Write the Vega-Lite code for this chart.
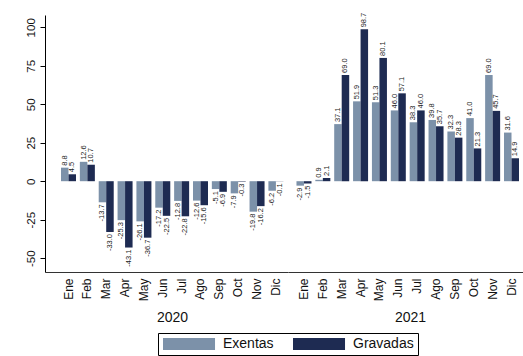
{
  "$schema": "https://vega.github.io/schema/vega-lite/v6.json",
  "padding": {"left": 5, "top": 12, "right": 0, "bottom": 0},
  "background": "white",
  "data": {"values": [
    {"anio": 2020, "mes": "Ene", "serie": "Exentas", "valor": 8.8},
    {"anio": 2020, "mes": "Ene", "serie": "Gravadas", "valor": 4.5},
    {"anio": 2020, "mes": "Feb", "serie": "Exentas", "valor": 12.6},
    {"anio": 2020, "mes": "Feb", "serie": "Gravadas", "valor": 10.7},
    {"anio": 2020, "mes": "Mar", "serie": "Exentas", "valor": -13.7},
    {"anio": 2020, "mes": "Mar", "serie": "Gravadas", "valor": -33.0},
    {"anio": 2020, "mes": "Apr", "serie": "Exentas", "valor": -25.3},
    {"anio": 2020, "mes": "Apr", "serie": "Gravadas", "valor": -43.1},
    {"anio": 2020, "mes": "May", "serie": "Exentas", "valor": -26.1},
    {"anio": 2020, "mes": "May", "serie": "Gravadas", "valor": -36.7},
    {"anio": 2020, "mes": "Jun", "serie": "Exentas", "valor": -17.2},
    {"anio": 2020, "mes": "Jun", "serie": "Gravadas", "valor": -22.5},
    {"anio": 2020, "mes": "Jul", "serie": "Exentas", "valor": -12.8},
    {"anio": 2020, "mes": "Jul", "serie": "Gravadas", "valor": -22.8},
    {"anio": 2020, "mes": "Ago", "serie": "Exentas", "valor": -12.6},
    {"anio": 2020, "mes": "Ago", "serie": "Gravadas", "valor": -15.6},
    {"anio": 2020, "mes": "Sep", "serie": "Exentas", "valor": -5.1},
    {"anio": 2020, "mes": "Sep", "serie": "Gravadas", "valor": -6.9},
    {"anio": 2020, "mes": "Oct", "serie": "Exentas", "valor": -7.9},
    {"anio": 2020, "mes": "Oct", "serie": "Gravadas", "valor": -0.3},
    {"anio": 2020, "mes": "Nov", "serie": "Exentas", "valor": -19.8},
    {"anio": 2020, "mes": "Nov", "serie": "Gravadas", "valor": -16.2},
    {"anio": 2020, "mes": "Dic", "serie": "Exentas", "valor": -6.2},
    {"anio": 2020, "mes": "Dic", "serie": "Gravadas", "valor": -0.1},
    {"anio": 2021, "mes": "Ene", "serie": "Exentas", "valor": -2.9},
    {"anio": 2021, "mes": "Ene", "serie": "Gravadas", "valor": -1.5},
    {"anio": 2021, "mes": "Feb", "serie": "Exentas", "valor": 0.9},
    {"anio": 2021, "mes": "Feb", "serie": "Gravadas", "valor": 2.1},
    {"anio": 2021, "mes": "Mar", "serie": "Exentas", "valor": 37.1},
    {"anio": 2021, "mes": "Mar", "serie": "Gravadas", "valor": 69.0},
    {"anio": 2021, "mes": "Apr", "serie": "Exentas", "valor": 51.9},
    {"anio": 2021, "mes": "Apr", "serie": "Gravadas", "valor": 98.7},
    {"anio": 2021, "mes": "May", "serie": "Exentas", "valor": 51.3},
    {"anio": 2021, "mes": "May", "serie": "Gravadas", "valor": 80.1},
    {"anio": 2021, "mes": "Jun", "serie": "Exentas", "valor": 46.0},
    {"anio": 2021, "mes": "Jun", "serie": "Gravadas", "valor": 57.1},
    {"anio": 2021, "mes": "Jul", "serie": "Exentas", "valor": 38.3},
    {"anio": 2021, "mes": "Jul", "serie": "Gravadas", "valor": 46.0},
    {"anio": 2021, "mes": "Ago", "serie": "Exentas", "valor": 39.8},
    {"anio": 2021, "mes": "Ago", "serie": "Gravadas", "valor": 35.7},
    {"anio": 2021, "mes": "Sep", "serie": "Exentas", "valor": 32.3},
    {"anio": 2021, "mes": "Sep", "serie": "Gravadas", "valor": 28.3},
    {"anio": 2021, "mes": "Oct", "serie": "Exentas", "valor": 41.0},
    {"anio": 2021, "mes": "Oct", "serie": "Gravadas", "valor": 21.3},
    {"anio": 2021, "mes": "Nov", "serie": "Exentas", "valor": 69.0},
    {"anio": 2021, "mes": "Nov", "serie": "Gravadas", "valor": 45.7},
    {"anio": 2021, "mes": "Dic", "serie": "Exentas", "valor": 31.6},
    {"anio": 2021, "mes": "Dic", "serie": "Gravadas", "valor": 14.9}
  ]},
  "spacing": 0,
  "resolve": {"scale": {"y": "shared", "color": "shared"}},
  "hconcat": [
    {
      "width": 243,
      "height": 257,
      "transform": [{"filter": "datum.anio == 2020"}],
      "encoding": {
        "x": {"field": "mes", "type": "nominal",
          "sort": ["Ene","Feb","Mar","Apr","May","Jun","Jul","Ago","Sep","Oct","Nov","Dic"],
          "scale": {"paddingInner": 0.204, "paddingOuter": 0.546, "align": 0.777},
          "axis": {"title": "2020", "titleX": 127}},
        "xOffset": {"field": "serie", "type": "nominal", "sort": ["Exentas", "Gravadas"]},
        "y": {"field": "valor", "type": "quantitative",
          "scale": {"domain": [-59, 108], "nice": false, "zero": false},
          "axis": {"title": null, "values": [-50, -25, 0, 25, 50, 75, 100], "labelAngle": 270,
            "grid": false, "tickSize": 5, "domainColor": "black", "tickColor": "black",
            "labelFontSize": 11.5, "labelPadding": 4, "minExtent": 40, "maxExtent": 40}},
        "color": {"field": "serie", "type": "nominal",
          "scale": {"domain": ["Exentas", "Gravadas"], "range": ["#7c91a9", "#1e2b52"]},
          "legend": {"orient": "none", "legendX": 113, "legendY": 318, "direction": "horizontal", "title": null}}
      },
      "layer": [
        {"mark": {"type": "bar"}},
        {"transform": [{"filter": "datum.valor >= 0"}],
          "mark": {"type": "text", "angle": 270, "align": "left", "baseline": "middle", "dx": 2, "fontSize": 7.5, "font": "Liberation Sans", "color": "#222"},
          "encoding": {"text": {"field": "valor", "type": "quantitative", "format": ".1f"}, "color": {"value": "#222"}}},
        {"transform": [{"filter": "datum.valor < 0"}],
          "mark": {"type": "text", "angle": 270, "align": "right", "baseline": "middle", "dx": -2, "fontSize": 7.5, "font": "Liberation Sans", "color": "#222"},
          "encoding": {"text": {"field": "valor", "type": "quantitative", "format": ".1f"}, "color": {"value": "#222"}}}
      ]
    },
    {
      "width": 235,
      "height": 257,
      "transform": [{"filter": "datum.anio == 2021"}],
      "encoding": {
        "x": {"field": "mes", "type": "nominal",
          "sort": ["Ene","Feb","Mar","Apr","May","Jun","Jul","Ago","Sep","Oct","Nov","Dic"],
          "scale": {"paddingInner": 0.204, "paddingOuter": 0.33, "align": 0.68},
          "axis": {"title": "2021", "titleX": 122}},
        "xOffset": {"field": "serie", "type": "nominal", "sort": ["Exentas", "Gravadas"]},
        "y": {"field": "valor", "type": "quantitative",
          "scale": {"domain": [-59, 108], "nice": false, "zero": false},
          "axis": null},
        "color": {"field": "serie", "type": "nominal",
          "scale": {"domain": ["Exentas", "Gravadas"], "range": ["#7c91a9", "#1e2b52"]},
          "legend": {"orient": "none", "legendX": 113, "legendY": 318, "direction": "horizontal", "title": null}}
      },
      "layer": [
        {"mark": {"type": "bar"}},
        {"transform": [{"filter": "datum.valor >= 0"}],
          "mark": {"type": "text", "angle": 270, "align": "left", "baseline": "middle", "dx": 2, "fontSize": 7.5, "font": "Liberation Sans", "color": "#222"},
          "encoding": {"text": {"field": "valor", "type": "quantitative", "format": ".1f"}, "color": {"value": "#222"}}},
        {"transform": [{"filter": "datum.valor < 0"}],
          "mark": {"type": "text", "angle": 270, "align": "right", "baseline": "middle", "dx": -2, "fontSize": 7.5, "font": "Liberation Sans", "color": "#222"},
          "encoding": {"text": {"field": "valor", "type": "quantitative", "format": ".1f"}, "color": {"value": "#222"}}}
      ]
    }
  ],
  "config": {
    "locale": {"number": {"decimal": ".", "thousands": ",", "grouping": [3], "currency": ["$", ""], "minus": "-"}},
    "font": "Liberation Sans",
    "view": {"stroke": null},
    "axis": {"labelFont": "Liberation Sans", "titleFont": "Liberation Sans", "labelColor": "#111", "titleColor": "#111"},
    "axisX": {"labelAngle": 270, "ticks": false, "labelPadding": 6, "labelFontSize": 12, "domainColor": "#333", "titleFontSize": 14, "titleFontWeight": "normal", "titlePadding": 10},
    "legend": {"strokeColor": "black", "fillColor": "white", "padding": 4, "labelFontSize": 14, "labelFont": "Liberation Sans", "labelColor": "#111",
      "symbolType": "M-1,-1H7.67V1H-1Z", "symbolSize": 144, "symbolStrokeWidth": 0, "labelOffset": 47, "columnPadding": 18, "cornerRadius": 0}
  }
}
